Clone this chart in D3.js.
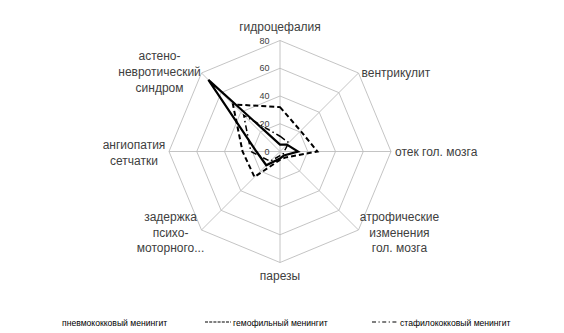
<!DOCTYPE html>
<html>
<head>
<meta charset="utf-8">
<script src="https://cdn.jsdelivr.net/npm/d3@7"></script>
<style>
  html, body { margin: 0; padding: 0; background: #fff; }
  svg { display: block; }
</style>
</head>
<body>
<svg id="chart" width="564" height="333"></svg>
<script>
// Axes of the radar, clockwise from the top
const categories = [
  "гидроцефалия",
  "вентрикулит",
  "отек гол. мозга",
  "атрофические изменения гол. мозга",
  "парезы",
  "задержка психо-моторного...",
  "ангиопатия сетчатки",
  "астено-невротический синдром"
];
// Wrapped form of each axis label
const categoryLines = [
  ["гидроцефалия"],
  ["вентрикулит"],
  ["отек гол. мозга"],
  ["атрофические", "изменения", "гол. мозга"],
  ["парезы"],
  ["задержка", "психо-", "моторного..."],
  ["ангиопатия", "сетчатки"],
  ["астено-", "невротический", "синдром"]
];

const seriesNames = ["пневмококковый менингит", "гемофильный менингит", "стафилококковый менингит"];
const pneumococcal = [5, 7, 13, 4, 5, 14, 17, 73];
const haemophilus  = [32, 21, 27, 6, 6, 26, 27, 48];
const staphylococcal = [11, 9, 3, 3, 3, 10, 21, 37];

const tickValues = [0, 20, 40, 60, 80];

// ---- layout ----
const svg = d3.select("#chart");
const cx = 280, cy = 151.5, R = 111;
const r = d3.scaleLinear().domain([0, 80]).range([0, R]);
const angle = d3.scalePoint().domain(d3.range(categories.length)).range([0, 2 * Math.PI * (categories.length - 1) / categories.length]);

const gridColor = "#bdbdbd";
const textColor = "#404040";
const font = "'Liberation Sans', Arial, sans-serif";

const g = svg.append("g").attr("transform", `translate(${cx},${cy})`);

const pt = (i, v) => {
  const a = angle(i);
  return [Math.sin(a) * r(v), -Math.cos(a) * r(v)];
};

// concentric octagons
const ring = d3.lineRadial()
  .angle((d, i) => angle(i))
  .radius(d => r(d))
  .curve(d3.curveLinearClosed);

g.selectAll("path.ring")
  .data(tickValues.filter(t => t > 0))
  .join("path")
  .attr("class", "ring")
  .attr("d", t => ring(categories.map(() => t)))
  .attr("fill", "none")
  .attr("stroke", gridColor)
  .attr("stroke-width", 0.9);

// spokes
g.selectAll("line.spoke")
  .data(categories)
  .join("line")
  .attr("class", "spoke")
  .attr("x1", 0).attr("y1", 0)
  .attr("x2", (d, i) => pt(i, 80)[0])
  .attr("y2", (d, i) => pt(i, 80)[1])
  .attr("stroke", gridColor)
  .attr("stroke-width", 0.9);

// series lines
const seriesStyles = [
  { data: staphylococcal, width: 1.5, dash: "6,3,1.5,3" },
  { data: haemophilus, width: 2, dash: "5,3" },
  { data: pneumococcal, width: 2.2, dash: null }
];
const line = d3.lineRadial()
  .angle((d, i) => angle(i))
  .radius(d => r(d))
  .curve(d3.curveLinearClosed);

g.selectAll("path.series")
  .data(seriesStyles)
  .join("path")
  .attr("class", "series")
  .attr("d", s => line(s.data))
  .attr("fill", "none")
  .attr("stroke", "#000")
  .attr("stroke-width", s => s.width)
  .attr("stroke-dasharray", s => s.dash)
  .attr("stroke-linejoin", "miter");

// tick labels along the vertical axis
g.selectAll("text.tick")
  .data(tickValues)
  .join("text")
  .attr("class", "tick")
  .attr("x", -10.5)
  .attr("y", t => -r(t))
  .attr("dy", "0.35em")
  .attr("text-anchor", "end")
  .attr("font-family", font)
  .attr("font-size", 9)
  .attr("fill", textColor)
  .text(t => t);

// axis labels, placed outside each vertex
const labelPlace = [
  { dx: 0,   dy: -13.5, anchor: "middle" },
  { dx: 3,   dy: 0,     anchor: "start" },
  { dx: 4,   dy: 0.5,   anchor: "start" },
  { dx: 41,  dy: 2.5,   anchor: "middle" },
  { dx: 0,   dy: 13.5,  anchor: "middle" },
  { dx: -31, dy: 2.5,   anchor: "middle" },
  { dx: -35, dy: 1,     anchor: "middle" },
  { dx: -42, dy: -1.5,  anchor: "middle" }
];
const lineH = 15.8;
const labels = g.selectAll("text.cat")
  .data(categoryLines)
  .join("text")
  .attr("class", "cat")
  .attr("font-family", font)
  .attr("font-size", 12)
  .attr("fill", textColor)
  .attr("text-anchor", (d, i) => labelPlace[i].anchor);
labels.each(function(lines, i) {
  const [vx, vy] = pt(i, 80);
  const p = labelPlace[i];
  const y0 = vy + p.dy - (lines.length - 1) * lineH / 2;
  d3.select(this).selectAll("tspan")
    .data(lines)
    .join("tspan")
    .attr("x", vx + p.dx)
    .attr("y", (s, k) => y0 + k * lineH)
    .attr("dy", "0.35em")
    .text(s => s);
});

// legend
const legend = svg.append("g").attr("font-family", font).attr("font-size", 8.6).attr("fill", "#000");
const legendItems = [
  { name: seriesNames[0], x0: null, x1: null, tx: 62,  dash: null, width: 0 },
  { name: seriesNames[1], x0: 205, x1: 231, tx: 233, dash: "3,1.2", width: 1.2 },
  { name: seriesNames[2], x0: 372, x1: 397, tx: 400, dash: "4,2.5,1.2,2.5", width: 1.2 }
];
const ly = 323;
legend.selectAll("line")
  .data(legendItems.filter(d => d.x0 !== null))
  .join("line")
  .attr("x1", d => d.x0).attr("x2", d => d.x1)
  .attr("y1", ly - 1).attr("y2", ly - 1)
  .attr("stroke", "#000")
  .attr("stroke-width", d => d.width)
  .attr("stroke-dasharray", d => d.dash);
legend.selectAll("text")
  .data(legendItems)
  .join("text")
  .attr("x", d => d.tx)
  .attr("y", ly)
  .attr("dy", "0.35em")
  .text(d => d.name);
</script>
</body>
</html>
